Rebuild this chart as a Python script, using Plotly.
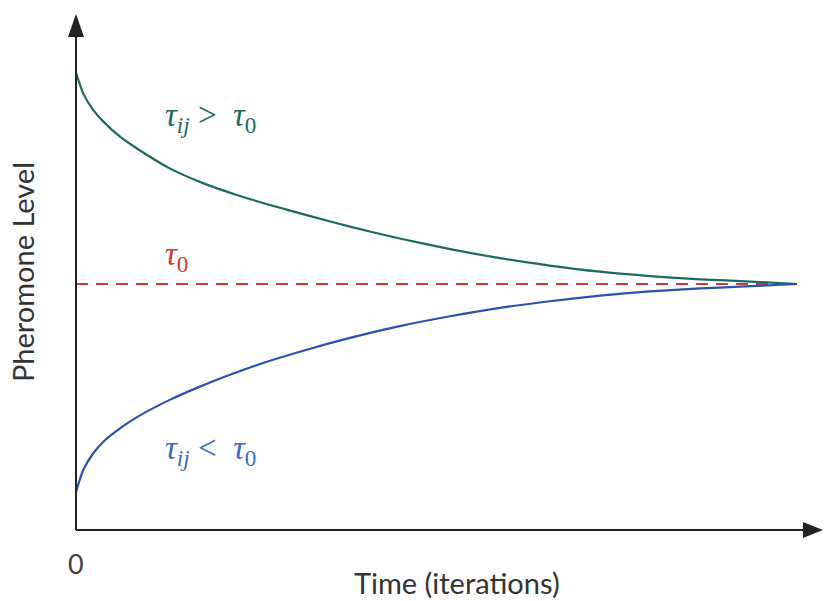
import plotly.graph_objects as go

# Pheromone level over iterations: both trails converge to the initial level tau0
tau0 = 1.0

iter_high = [0, 1.0, 2.4, 3.8, 6.1, 8.4, 13.0, 17.7, 22.3, 26.9, 32.5, 38.0,
             44.9, 51.9, 58.8, 65.7, 72.7, 79.6, 86.6, 93.5, 100]
level_high = [1.858, 1.775, 1.707, 1.660, 1.599, 1.552, 1.470, 1.409, 1.362, 1.321,
              1.276, 1.233, 1.185, 1.142, 1.105, 1.075, 1.050, 1.032, 1.019, 1.010, 1.0]

iter_low = [0, 1.0, 2.4, 3.8, 6.1, 8.4, 13.0, 17.7, 22.3, 26.9, 32.5, 38.0,
            44.9, 51.9, 58.8, 65.7, 72.7, 79.6, 86.6, 93.5, 100]
level_low = [0.155, 0.244, 0.312, 0.359, 0.413, 0.458, 0.529, 0.589, 0.641, 0.688,
             0.737, 0.781, 0.829, 0.869, 0.903, 0.930, 0.953, 0.970, 0.982, 0.991, 1.0]

iter_span = [0, 100]
level_ref = [tau0, tau0]

TEAL = "#1d6b5f"
BLUE = "#2a52b0"
RED = "#d0383a"
AXIS = "#222222"

fig = go.Figure()

fig.add_trace(go.Scatter(x=iter_span, y=level_ref, mode="lines",
                         line=dict(color=RED, width=2, dash="12px,8px"),
                         hoverinfo="skip"))
fig.add_trace(go.Scatter(x=iter_high, y=level_high, mode="lines",
                         line=dict(color=TEAL, width=2.2, shape="spline", smoothing=0.6)))
fig.add_trace(go.Scatter(x=iter_low, y=level_low, mode="lines",
                         line=dict(color=BLUE, width=2.2, shape="spline", smoothing=0.6)))

W, H = 831, 601
ML, MR, MT, MB = 76, 0, 14, 71
pw, ph = W - ML - MR, H - MT - MB


def px(x):
    return (x - ML) / pw


def py(y):
    return (H - MB - y) / ph


shapes = [
    # vertical axis with arrowhead
    dict(type="line", xref="paper", yref="paper", x0=0, y0=0, x1=0, y1=py(30),
         line=dict(color=AXIS, width=2)),
    dict(type="path", xref="paper", yref="paper",
         path=f"M {px(68)} {py(37)} L {px(76)} {py(14)} L {px(84)} {py(37)} Z",
         fillcolor=AXIS, line=dict(color=AXIS, width=0)),
    # horizontal axis with arrowhead
    dict(type="line", xref="paper", yref="paper", x0=0, y0=0, x1=px(806), y1=0,
         line=dict(color=AXIS, width=2)),
    dict(type="path", xref="paper", yref="paper",
         path=f"M {px(803)} {py(522)} L {px(823)} {py(530)} L {px(803)} {py(538)} Z",
         fillcolor=AXIS, line=dict(color=AXIS, width=0)),
]

serif = "Liberation Serif"
sans = "Lato"
centered = dict(showarrow=False, xanchor="center", yanchor="middle")
annotations = [
    dict(x=18.6, y=1.675, xref="x", yref="y",
         text="<i>τ</i><sub><i>ij</i></sub> >  <i>τ</i><sub>0</sub>",
         font=dict(family=serif, size=33, color=TEAL), **centered),
    dict(x=14.0, y=1.11, xref="x", yref="y",
         text="<i>τ</i><sub>0</sub>",
         font=dict(family=serif, size=33, color=RED), **centered),
    dict(x=18.6, y=0.325, xref="x", yref="y",
         text="<i>τ</i><sub><i>ij</i></sub> <  <i>τ</i><sub>0</sub>",
         font=dict(family=serif, size=33, color="#3a6cc0"), **centered),
    dict(x=px(22), y=py(272), xref="paper", yref="paper",
         text="Pheromone Level", textangle=-90,
         font=dict(family=sans, size=29, color="#333333"), **centered),
    dict(x=px(457), y=py(582), xref="paper", yref="paper",
         text="Time (iterations)",
         font=dict(family=sans, size=29, color="#333333"), **centered),
    dict(x=px(76), y=py(563), xref="paper", yref="paper",
         text="0", font=dict(family=sans, size=27, color="#444444"), **centered),
]

fig.update_layout(
    width=W, height=H,
    margin=dict(l=ML, r=MR, t=MT, b=MB),
    paper_bgcolor="white", plot_bgcolor="white",
    showlegend=False,
    xaxis=dict(range=[0, pw / 7.21], visible=False, fixedrange=True),
    yaxis=dict(range=[0, ph / 246.0], visible=False, fixedrange=True),
    shapes=shapes,
    annotations=annotations,
)

fig.write_html("out.html")
